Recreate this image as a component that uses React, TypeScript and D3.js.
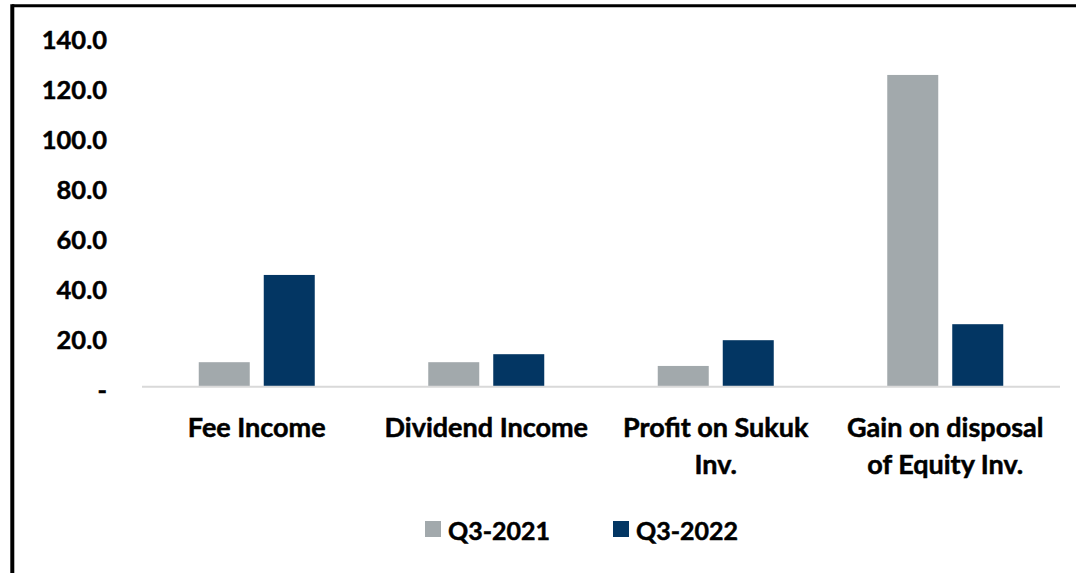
import React, { useEffect, useRef } from "react";
import * as d3 from "d3";

const W = 1076;
const H = 573;

const categories = ["Fee Income", "Dividend Income", "Profit on Sukuk Inv.", "Gain on disposal of Equity Inv."];
const categoryLines = [["Fee Income"], ["Dividend Income"], ["Profit on Sukuk", "Inv."], ["Gain on disposal", "of Equity Inv."]];
const seriesNames = ["Q3-2021", "Q3-2022"];
const q3_2021 = [9.8, 9.8, 8.3, 124.7];
const q3_2022 = [44.7, 13.0, 18.6, 25.0];
const yTicks = [0, 20, 40, 60, 80, 100, 120, 140];
const colors = ["#a2a9ac", "#033663"];

const FONT = "Lato, 'Open Sans', sans-serif";

const App = () => {
  const svgRef = useRef<SVGSVGElement>(null);

  useEffect(() => {
    const svg = d3.select(svgRef.current);
    svg.selectAll("*").remove();

    const left = 142;
    const right = 1060;
    const top = 36.7;
    const bottom = 386.7;

    const x = d3.scaleBand().domain(categories).range([left, right]);
    // two bars of 51px with a 14px gap
    const inner = d3.scaleBand().domain(seriesNames).range([0, 116]).paddingInner(14 / 65);
    const y = d3.scaleLinear().domain([0, 140]).range([bottom, top]);

    // frame (only top and left edges visible)
    svg.append("line").attr("x1", 12).attr("x2", W).attr("y1", 5.8).attr("y2", 5.8)
      .attr("stroke", "#000").attr("stroke-width", 3);
    svg.append("line").attr("x1", 12.3).attr("x2", 12.3).attr("y1", 4.3).attr("y2", H)
      .attr("stroke", "#000").attr("stroke-width", 4);

    const boldText = (sel: any, size: number) =>
      sel.attr("font-family", FONT)
        .attr("font-weight", "bold")
        .attr("font-size", size)
        .attr("fill", "#000")
        .attr("stroke", "#000")
        .attr("stroke-width", 0.5);

    // y labels
    svg.append("g").selectAll("text").data(yTicks).join("text")
      .attr("x", 107)
      .attr("y", (d) => y(d) + 2.6)
      .attr("text-anchor", "end")
      .attr("dominant-baseline", "central")
      .call((s) => boldText(s, 25.5))
      .text((d) => (d === 0 ? "-" : d.toFixed(1)));

    // bars
    const series = [q3_2021, q3_2022];
    series.forEach((vals, si) => {
      svg.append("g").selectAll("rect").data(vals).join("rect")
        .attr("x", (d, i) => (x(categories[i]) as number) + x.bandwidth() / 2 - 58 + (inner(seriesNames[si]) as number))
        .attr("y", (d) => y(d))
        .attr("width", inner.bandwidth())
        .attr("height", (d) => bottom - y(d))
        .attr("fill", colors[si]);
    });

    // baseline
    svg.append("line").attr("x1", left).attr("x2", right).attr("y1", bottom).attr("y2", bottom)
      .attr("stroke", "#d9d9d9").attr("stroke-width", 2);

    // category labels
    const cg = svg.append("g");
    categories.forEach((c, i) => {
      const cx = (x(c) as number) + x.bandwidth() / 2;
      categoryLines[i].forEach((line, li) => {
        cg.append("text")
          .attr("x", cx)
          .attr("y", 426 + li * 37)
          .attr("text-anchor", "middle")
          .attr("dominant-baseline", "central")
          .call((s) => boldText(s, 27))
          .text(line);
      });
    });

    // legend
    const legendX = [425, 613];
    const lg = svg.append("g");
    seriesNames.forEach((s, i) => {
      lg.append("rect").attr("x", legendX[i]).attr("y", 521).attr("width", 16).attr("height", 16)
        .attr("fill", colors[i]);
      lg.append("text")
        .attr("x", legendX[i] + 23)
        .attr("y", 530)
        .attr("dominant-baseline", "central")
        .call((t) => boldText(t, 25))
        .text(s);
    });
  }, []);

  return (
    <svg
      ref={svgRef}
      width={W}
      height={H}
      style={{ position: "absolute", left: 0, top: 0, background: "#fff" }}
    />
  );
};

export default App;
